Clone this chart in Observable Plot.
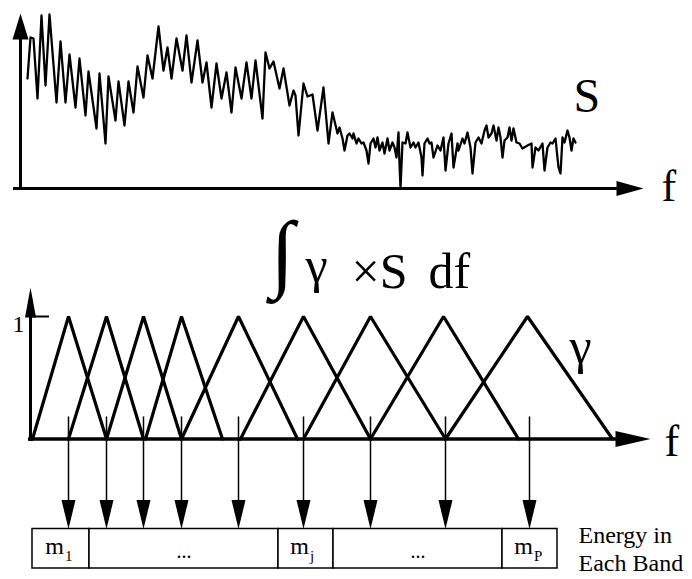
<!DOCTYPE html>
<html>
<head>
<meta charset="utf-8">
<script src="https://cdn.jsdelivr.net/npm/d3@7"></script>
<script src="https://cdn.jsdelivr.net/npm/@observablehq/plot@0.6"></script>
<style>
  html, body { margin: 0; padding: 0; background: white; }
  #wrap { position: relative; width: 692px; height: 579px; overflow: hidden; background: white; }
  #wrap svg { position: absolute; left: 0; top: 0; }
</style>
</head>
<body>
<div id="wrap"></div>
<script>
// ---- Spectrum S(f): frequency bin, amplitude ----
const specBin = [7,10,13,17,21,25,29,36,40,45,49,55,59,65,68,76,79,85,88,95,98,104,108,113,117,123,127,132,138,143,147,151,156,162,166,171,177,182,186,191,196,201,206,211,215,221,226,231,235,242,245,249,253,259,263,269,273,275,278,283,287,292,297,303,308,312,
  317,319,322,324,327,329,332,333,336,338,341,343,346,348,350,353,355,357,359,362,364,367,369,372,374,376,378,379,380,382,385,387,390,393,395,398,401,402,404,407,409,
  411,413,417,420,423,425,428,431,433,437,438,442,444,447,450,452,455,458,461,464,466,468,471,473,476,478,480,482,484,487,489,491,493,496,499,502,507,511,512,515,518,522,524,527,530,532,535,538,540,542,544,547,549,551,553,555];
const specAmp = [110,151,150,90,173,103,174,86,147,86,134,81,130,73,117,60,115,45,112,68,107,63,107,76,122,91,133,110,162,118,141,110,150,118,153,106,148,106,126,81,125,90,116,76,121,90,126,90,128,70,136,120,127,100,120,83,98,93,53,105,92,94,58,101,45,76,
  55,61,50,38,53,55,50,55,45,50,45,46,38,25,45,50,41,51,38,46,35,50,38,46,41,31,56,25,1,46,45,56,41,46,41,46,31,13,45,50,45,
  46,31,43,38,51,18,45,55,21,45,38,50,45,56,41,15,46,51,45,58,63,51,55,63,48,61,51,31,48,51,61,48,60,46,45,40,43,45,21,41,38,45,18,41,46,45,50,21,15,51,46,58,51,38,50,46];

// ---- Triangular filters gamma: left foot, centre, right foot (bins) ----
const filtLeft   = [2, 38, 76, 115, 151, 210, 273, 340, 415];
const filtCenter = [38, 76, 113, 151, 208, 273, 340, 413, 497];
const filtRight  = [76, 113, 151, 192, 267, 340, 415, 488, 582];
const filtGain = 1;

// ---- Arrows from each band into the energy vector ----
const arrowBins = [38, 76, 113, 151, 208, 273, 340, 415, 499];

// ---- Energy vector cells ----
const cellEdges  = [2, 59, 248, 303, 472, 527];
const cellLabels = ["m", "...", "m", "...", "m"];
const cellSubs   = ["1", "", "j", "", "P"];

// ---- Text labels ----
const txtS = "S", txtF = "f", txtGamma = "γ", txtInt = "∫";
const txtTimes = "×S", txtDf = "df", txtOne = "1";
const txtEnergy = ["Energy in", "Each Band"];

const spectrum = specBin.map((f, i) => ({f, a: specAmp[i]}));
const filterPts = filtCenter.flatMap((c, k) => [
  {k, f: filtLeft[k], g: 0}, {k, f: c, g: filtGain}, {k, f: filtRight[k], g: 0}
]);
const cells = cellLabels.map((lab, i) => ({
  x1: cellEdges[i], x2: cellEdges[i + 1], mid: (cellEdges[i] + cellEdges[i + 1]) / 2,
  label: lab, sub: cellSubs[i]
}));

// filled arrow head symbols (tip at origin)
function head(w, L, dir) {
  return {draw(ctx) {
    if (dir === "up") { ctx.moveTo(0, 0); ctx.lineTo(-w / 2, L); ctx.lineTo(w / 2, L); }
    else if (dir === "down") { ctx.moveTo(0, 0); ctx.lineTo(-w / 2, -L); ctx.lineTo(w / 2, -L); }
    else { ctx.moveTo(0, 0); ctx.lineTo(-L, -w / 2); ctx.lineTo(-L, w / 2); }
    ctx.closePath();
  }};
}

const FONT = "Liberation Serif";
const W = 692, H = 579;
const base = {width: W, height: H, margin: 0, style: {background: "transparent", overflow: "visible"}};
const ann = (t, dx, dy, size) => Plot.text([t], {
  frameAnchor: "top-left", dx, dy, text: d => d, lineAnchor: "bottom", textAnchor: "start",
  fontSize: size, fontFamily: FONT, fill: "black"
});

// ---------- top panel: spectrum ----------
const topPlot = Plot.plot({
  ...base,
  x: {domain: [0, 623], range: [20, 643], axis: null},
  y: {domain: [0, 175], range: [188, 13], axis: null},
  marks: [
    Plot.line(spectrum, {x: "f", y: "a", stroke: "black", strokeWidth: 2.3, strokeLinejoin: "round"}),
    Plot.ruleX([0], {y1: -2, y2: 155, stroke: "black", strokeWidth: 3}),
    Plot.ruleY([0], {x1: -7, x2: 605, stroke: "black", strokeWidth: 3}),
    Plot.dot([0], {x: () => 0, y: () => 175, symbol: head(16, 26, "up"), fill: "black", stroke: "none"}),
    Plot.dot([0], {x: () => 623, y: () => 0, symbol: head(15, 27, "right"), fill: "black", stroke: "none"}),
    ann(txtS, 573, 111, 48),
    ann(txtF, 661, 200, 44)
  ]
});

// ---------- bottom panel: filter bank ----------
const BOX_TOP = (438.5 - 528.5) / 122.5, BOX_BOT = (438.5 - 568) / 122.5;
const bottomPlot = Plot.plot({
  ...base,
  x: {domain: [0, 620], range: [30, 650], axis: null},
  y: {domain: [0, 1], range: [438.5, 316], axis: null},
  marks: [
    Plot.line(filterPts, {x: "f", y: "g", z: "k", stroke: "black", strokeWidth: 3.2, strokeLinejoin: "miter"}),
    Plot.ruleX([0], {y1: -0.02, y2: 1.1, stroke: "black", strokeWidth: 3}),
    Plot.ruleY([0], {x1: -2, x2: 595, stroke: "black", strokeWidth: 3.5}),
    Plot.ruleY([1], {x1: 0, x2: 19, stroke: "black", strokeWidth: 2}),
    Plot.dot([0], {x: () => 0, y: () => (438.5 - 287) / 122.5, symbol: head(11, 30, "up"), fill: "black", stroke: "none"}),
    Plot.dot([0], {x: () => 620, y: () => 0, symbol: head(16, 35, "right"), fill: "black", stroke: "none"}),
    Plot.ruleX(arrowBins, {x: d => d, y1: 0.18, y2: BOX_TOP + 0.1, stroke: "black", strokeWidth: 1.5}),
    Plot.rect(cells, {x1: "x1", x2: "x2", y1: () => BOX_BOT, y2: () => BOX_TOP, fill: "white", stroke: "black", strokeWidth: 1.5}),
    Plot.dot(arrowBins, {x: d => d, y: () => BOX_TOP, symbol: head(14, 29, "down"), fill: "black", stroke: "none"}),
    Plot.text(cells.filter(c => c.sub), {x: "mid", y: () => (438.5 - 553) / 122.5, text: "label", dx: 3, textAnchor: "end", lineAnchor: "bottom", fontSize: 24, fontFamily: FONT}),
    Plot.text(cells.filter(c => c.sub), {x: "mid", y: () => (438.5 - 560) / 122.5, text: "sub", dx: 4, textAnchor: "start", lineAnchor: "bottom", fontSize: 15, fontFamily: FONT}),
    Plot.text(cells.filter(c => !c.sub), {x: "mid", y: () => (438.5 - 557) / 122.5, text: "label", textAnchor: "middle", lineAnchor: "bottom", fontSize: 20, fontFamily: FONT}),
    ann(txtOne, 12, 331, 24),
    ann(txtInt, 270, 280, 86),
    ann(txtGamma, 305, 281, 50),
    ann(txtTimes, 351, 287, 50),
    ann(txtDf, 428, 287, 50),
    ann(txtGamma, 569, 362, 50),
    ann(txtF, 664, 455, 44),
    ann(txtEnergy[0], 578, 542, 24),
    ann(txtEnergy[1], 578, 570, 24)
  ]
});

const wrap = document.getElementById("wrap");
wrap.appendChild(topPlot);
wrap.appendChild(bottomPlot);
</script>
</body>
</html>
